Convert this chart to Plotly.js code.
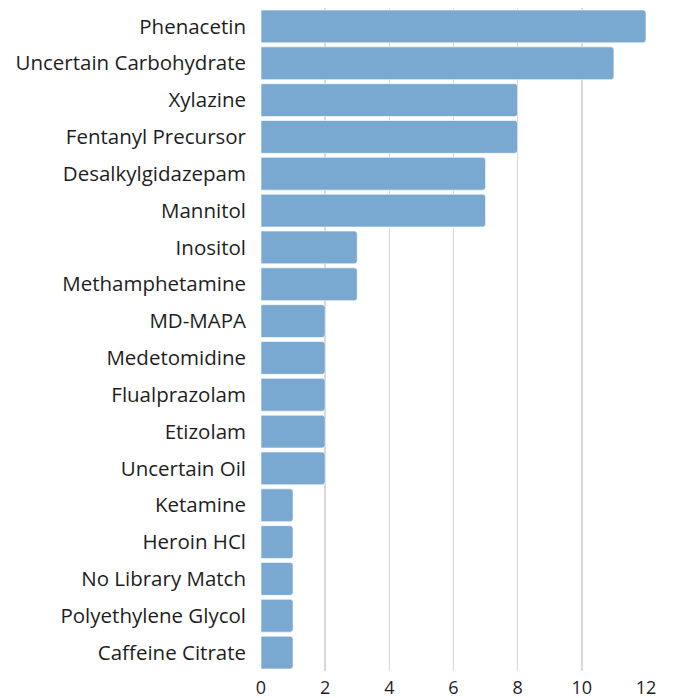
<!DOCTYPE html>
<html>
<head>
<meta charset="utf-8">
<script src="https://cdn.plot.ly/plotly-3.0.1.min.js"></script>
<style>html,body{margin:0;padding:0;background:#fff;}#chart{width:673px;height:698px;}</style>
</head>
<body>
<div id="chart"></div>
<script>
const categories = ["Phenacetin","Uncertain Carbohydrate","Xylazine","Fentanyl Precursor","Desalkylgidazepam","Mannitol","Inositol","Methamphetamine","MD-MAPA","Medetomidine","Flualprazolam","Etizolam","Uncertain Oil","Ketamine","Heroin HCl","No Library Match","Polyethylene Glycol","Caffeine Citrate"];
const counts = [12,11,8,8,7,7,3,3,2,2,2,2,2,1,1,1,1,1];
const xTicks = [0,2,4,6,8,10,12];

const trace = {
  type: 'bar',
  orientation: 'h',
  y: categories,
  x: counts,
  marker: {color: '#79a9d1', line: {color: 'rgba(255,255,255,0.6)', width: 1}},
  hoverinfo: 'none'
};
const layout = {
  width: 673, height: 698,
  margin: {l: 261, r: 27, t: 8, b: 27},
  paper_bgcolor: '#fff', plot_bgcolor: '#fff',
  font: {family: '"Open Sans", "DejaVu Sans", sans-serif', size: 20.5, color: '#1e1e1e'},
  barcornerradius: 3,
  bargap: 0.11,
  showlegend: false,
  xaxis: {range: [0, 12], tickvals: xTicks, tickfont: {size: 18}, showgrid: true, gridcolor: '#d9d9d9', gridwidth: 1.5, zeroline: false, showline: false, ticks: '', ticklabelstandoff: 4, fixedrange: true},
  yaxis: {autorange: 'reversed', showgrid: false, zeroline: false, showline: false, ticks: '', ticklabelstandoff: 14, fixedrange: true}
};
Plotly.newPlot('chart', [trace], layout, {staticPlot: true});
</script>
</body>
</html>
